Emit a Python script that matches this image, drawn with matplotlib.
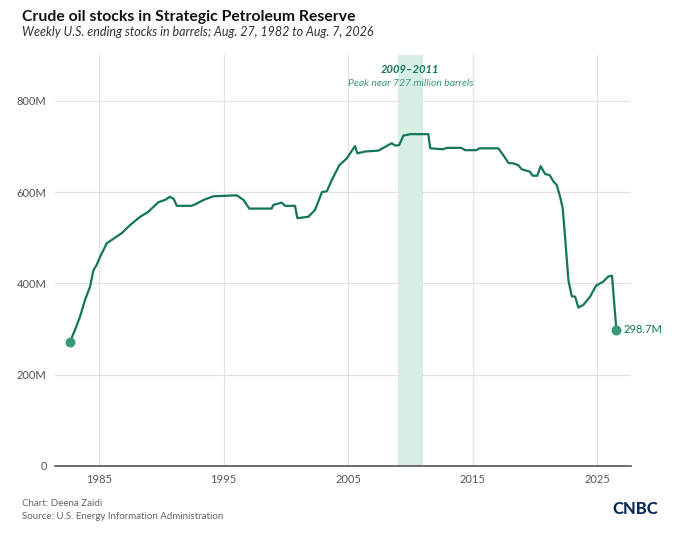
import matplotlib
matplotlib.use("Agg")
import matplotlib.pyplot as plt

# weekly SPR stocks, millions of barrels
YEARS = [1982.65, 1983.07, 1983.47, 1983.88, 1984.28, 1984.55, 1984.8, 1985.08,
         1985.62, 1986.82, 1987.5, 1988.3, 1988.96, 1989.77, 1990.3, 1990.7,
         1991.0, 1991.24, 1992.45, 1992.85, 1993.4, 1994.2, 1996.06, 1996.6,
         1997.07, 1998.87, 1999.0, 1999.67, 1999.94, 2000.74, 2000.93, 2001.81,
         2002.35, 2002.9, 2003.3, 2003.7, 2004.3, 2004.9, 2005.56, 2005.75,
         2006.37, 2007.44, 2008.5, 2008.8, 2009.1, 2009.45, 2010.0, 2011.45,
         2011.6, 2012.65, 2012.9, 2014.1, 2014.4, 2015.3, 2015.55, 2017.07,
         2017.47, 2017.88, 2018.28, 2018.68, 2018.95, 2019.6, 2019.83, 2020.2,
         2020.47, 2020.82, 2021.2, 2021.5, 2021.76, 2022.03, 2022.24, 2022.43,
         2022.7, 2022.97, 2023.24, 2023.5, 2023.9, 2024.44, 2024.92, 2025.5,
         2025.9, 2026.2, 2026.55]
STOCKS = [271, 298, 327, 364, 393, 429, 440, 458,
          488, 510, 528, 546, 557, 578, 583, 590,
          585, 570, 570, 575, 583, 591, 593, 583,
          564, 564, 572, 577, 570, 570, 543, 546,
          561, 600, 602, 627, 659, 674, 701, 685,
          689, 691, 707, 702, 703, 724, 727, 727,
          696, 694, 697, 697, 692, 692, 696, 696,
          681, 664, 663, 659, 650, 645, 636, 636,
          657, 640, 637, 623, 616, 590, 565, 502,
          407, 372, 371, 347, 353, 371, 395, 404,
          415, 417, 298.7]

X_TICKS = [1985, 1995, 2005, 2015, 2025]
Y_TICKS = [0, 200, 400, 600, 800]
Y_LABELS = ['0', '200M', '400M', '600M', '800M']
PEAK_SPAN = (2009, 2011)

plt.rcParams['font.family'] = ['Lato', 'DejaVu Sans']

LINE = '#13765a'
DOT = '#3a9a76'
GREY = '#555555'

fig = plt.figure(figsize=(6.8, 5.36), dpi=100)
ax = fig.add_axes([0.081, 0.1306, 0.847, 0.7664])

ax.axvspan(PEAK_SPAN[0], PEAK_SPAN[1], color='#d6efe2', lw=0, zorder=1)
ax.plot(YEARS, STOCKS, color=LINE, lw=1.6, zorder=3, solid_joinstyle='round')
ax.scatter([YEARS[0], YEARS[-1]], [STOCKS[0], STOCKS[-1]], s=38, color=DOT, zorder=4)
ax.text(YEARS[-1] + 0.6, STOCKS[-1], '%.1fM' % STOCKS[-1], color=LINE,
        fontsize=8, va='center', ha='left')

ax.text(sum(PEAK_SPAN) / 2, 868, '2009\u20132011', color=LINE, fontsize=8,
        fontweight='bold', style='italic', ha='center', va='center')
ax.text(sum(PEAK_SPAN) / 2, 838, 'Peak near 727 million barrels', color='#3a9a76',
        fontsize=7.5, style='italic', ha='center', va='center')

ax.set_xlim(1981.47, 2027.73)
ax.set_ylim(0, 900)
ax.set_xticks(X_TICKS)
ax.set_yticks(Y_TICKS)
ax.set_yticklabels(Y_LABELS)
ax.grid(True, color='#e3e3e3', lw=0.9, zorder=0)
ax.set_axisbelow(True)
for side in ['top', 'right', 'left']:
    ax.spines[side].set_visible(False)
ax.spines['bottom'].set_color('#555555')
ax.spines['bottom'].set_linewidth(1.2)
ax.tick_params(length=0, labelsize=8, labelcolor=GREY, pad=6)

fig.text(0.032, 0.968, 'Crude oil stocks in Strategic Petroleum Reserve',
         fontsize=11.3, fontweight='bold', color='#111111', va='center')
fig.text(0.032, 0.940, 'Weekly U.S. ending stocks in barrels; Aug. 27, 1982 to Aug. 7, 2026',
         fontsize=9, style='italic', color='#333333', va='center')
fig.text(0.032, 0.061, 'Chart: Deena Zaidi', fontsize=7, color='#666666', va='center')
fig.text(0.032, 0.037, 'Source: U.S. Energy Information Administration', fontsize=7,
         color='#666666', va='center')
fig.text(0.968, 0.050, 'CNBC', fontsize=12, fontweight='black', color='#0b2a55',
         ha='right', va='center')

fig.savefig('out.png', dpi=100)
